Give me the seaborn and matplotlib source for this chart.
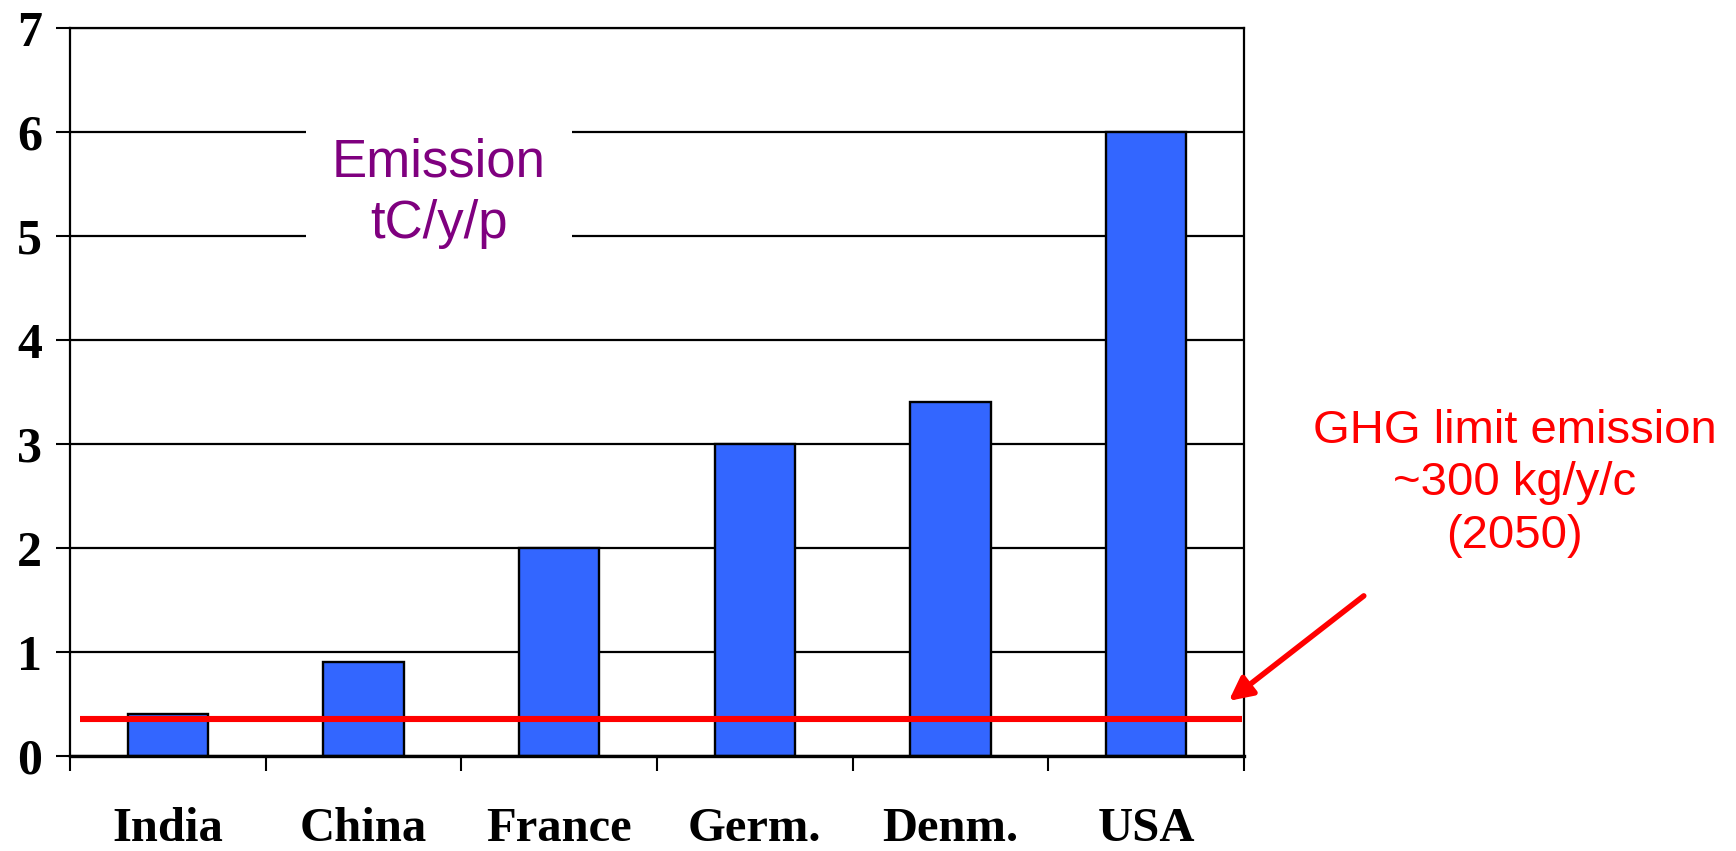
import matplotlib
matplotlib.use("Agg")
import matplotlib.pyplot as plt
import seaborn as sns
import pandas as pd
import numpy as np

# Per-capita carbon emissions (tC per year per person)
countries = ["India", "China", "France", "Germ.", "Denm.", "USA"]
emissions = [0.4, 0.9, 2.0, 3.0, 3.4, 6.0]
ghg_limit = 0.36
y_ticks = [0, 1, 2, 3, 4, 5, 6, 7]

df = pd.DataFrame({"country": countries, "emission": emissions})

sns.set_style("white")
plt.rcParams["font.family"] = ["Liberation Serif", "DejaVu Serif"]

fig = plt.figure(figsize=(17.36, 8.51), dpi=100)
ax = fig.add_axes([0.0403, 0.1116, 0.6763, 0.8554])

sns.barplot(data=df, x="country", y="emission", color="#3366FF",
            saturation=1, width=0.41, edgecolor="black", linewidth=1.7, ax=ax)

ax.set_xlim(-0.5, len(countries) - 0.5)
ax.set_ylim(0, 7)
ax.set_yticks(y_ticks)
ax.set_xlabel("")
ax.set_ylabel("")

# horizontal gridlines behind the bars
ax.set_axisbelow(True)
ax.yaxis.grid(True, color="black", linewidth=1.6)
ax.xaxis.grid(False)

for side in ["left", "right", "top"]:
    ax.spines[side].set_color("black")
    ax.spines[side].set_linewidth(1.6)
ax.spines["bottom"].set_color("black")
ax.spines["bottom"].set_linewidth(2.4)

# category separators as outward tick marks on the x axis
ax.set_xticks(np.arange(-0.5, len(countries), 1.0), minor=True)
ax.tick_params(axis="x", which="minor", bottom=True, length=11, width=1.5,
               color="black", direction="out")
ax.tick_params(axis="x", which="major", length=0, pad=37)
ax.tick_params(axis="y", which="major", left=True, length=10, width=1.5,
               color="black", direction="out", pad=10)

for lab in ax.get_yticklabels():
    lab.set_fontweight("bold")
    lab.set_fontsize(36)
    lab.set_color("black")
for lab in ax.get_xticklabels():
    lab.set_fontweight("bold")
    lab.set_fontsize(35)
    lab.set_color("black")

# GHG limit line
ax.hlines(ghg_limit, -0.45, 5.49, color="#FF0000", linewidth=4.4,
          capstyle="butt", zorder=4)

sans = ["Liberation Sans", "DejaVu Sans"]
ax.text(1.386, 5.41, "Emission\ntC/y/p", ha="center", va="center",
        fontsize=38, color="#7F007F", family=sans, linespacing=1.3,
        bbox=dict(facecolor="white", edgecolor="none", pad=19), zorder=5)

ax.text(6.884, 2.625, "GHG limit emission\n~300 kg/y/c\n(2050)",
        ha="center", va="center", fontsize=34, color="#FF0000",
        family=sans, linespacing=1.25, clip_on=False)

ax.annotate("", xy=(5.422, 0.53), xytext=(6.112, 1.54),
            arrowprops=dict(arrowstyle="-|>", color="#FF0000", lw=4,
                            mutation_scale=35, shrinkA=0, shrinkB=0),
            annotation_clip=False)

fig.savefig("out.png", dpi=100, facecolor="white")
